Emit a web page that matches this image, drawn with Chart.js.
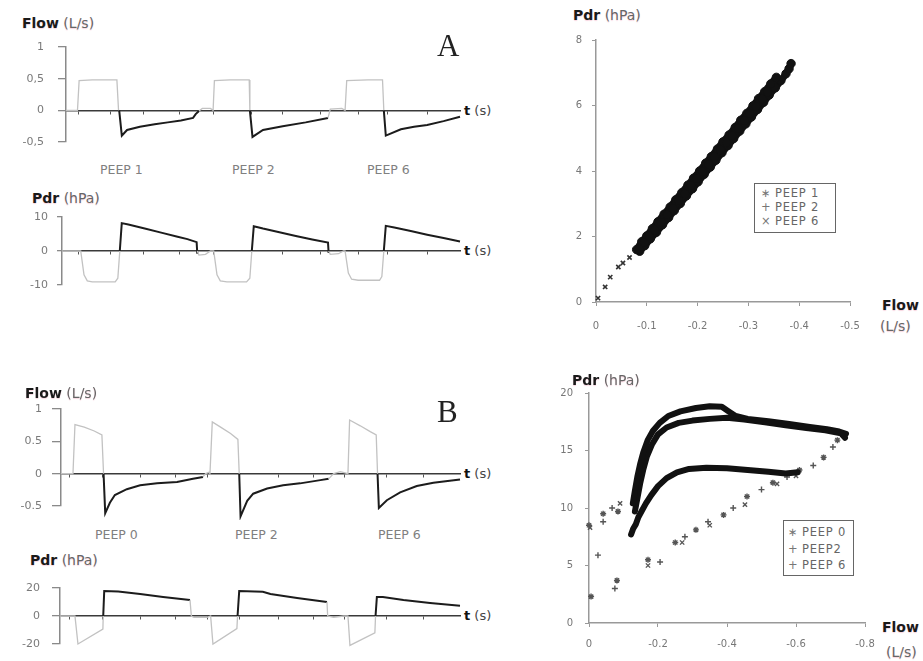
<!DOCTYPE html>
<html><head><meta charset="utf-8">
<script src="https://cdn.jsdelivr.net/npm/chart.js@4.4.1/dist/chart.umd.min.js"></script>
<style>
html,body{margin:0;padding:0;background:#fff;}
#root{position:relative;width:923px;height:661px;overflow:hidden;font-family:"DejaVu Sans",Arial,sans-serif;}
canvas{position:absolute;}
.lbl{position:absolute;white-space:nowrap;line-height:1;transform:translateY(-50%);}
.ttl{font-size:14px;color:#666;text-shadow:0 1px 1px rgba(220,60,110,0.22);}
.ttl b{color:#1a1a1a;}
.ts{font-size:13px;color:#444;}
.ts b{color:#111;}
.peep{font-size:12.5px;color:#808080;}
.big{font-family:"Liberation Serif","Times New Roman",serif;font-size:31px;color:#222;}
.legend{position:absolute;border:1px solid #666;background:#fff;font-size:11.5px;color:#666;letter-spacing:0.8px;}
.legend div{position:absolute;white-space:nowrap;line-height:1;transform:translateY(-50%);}
.legend span{display:inline-block;width:14px;color:#777;}
</style></head>
<body><div id="root"></div>
<script>
// ---------- DATA ----------
// time axis tick marks (s)
const T_TICKS_A = [0.37,1.35,2.35,3.45,4.48,5.65,6.6,7.75,8.9,9.8,11.0];
const T_TICKS_B = [0.27,1.26,2.38,3.43,4.42,5.38,6.53,7.58,8.54,9.8,10.89];

// Panel A – Flow (L/s): inspiration (grey) and expiration (black), [t, value]
const FLOW_A_INSP = [[0,0],[0.35,0],[0.4,0.47],[0.8,0.48],[1.2,0.48],[1.55,0.48],[1.6,0],[1.6,null],
  [4.05,-0.01],[4.15,0.03],[4.4,0.03],[4.48,0],[4.52,0.47],[5.0,0.48],[5.58,0.48],[5.6,0],[5.6,null],
  [7.98,-0.12],[8.05,0.02],[8.4,0.03],[8.5,0],[8.55,0.47],[9.2,0.48],[9.64,0.48],[9.68,0]];
const FLOW_A_EXP = [[1.62,0],[1.7,-0.4],[1.86,-0.31],[2.25,-0.26],[2.7,-0.22],[3.1,-0.19],[3.5,-0.16],[3.87,-0.12],[3.95,-0.06],[4.05,-0.01],[4.05,null],
  [5.6,0],[5.68,-0.42],[6.0,-0.31],[6.6,-0.25],[7.3,-0.19],[7.98,-0.12],[7.98,null],
  [9.68,0],[9.74,-0.4],[10.2,-0.3],[10.6,-0.26],[11.0,-0.23],[11.5,-0.17],[12.0,-0.1]];
const FLOW_A_Y_TICKS = [1,0.5,0,-0.5];
const FLOW_A_Y_LABELS = ['1','0,5','0','-0,5'];

// Panel A – Pdr (hPa)
const PDR_A_INSP = [[-0.12,0],[0.45,0],[0.55,-7],[0.65,-8.8],[0.8,-9.1],[1.5,-9.1],[1.58,-8],[1.64,0],[1.64,null],
  [4.0,0],[4.05,-1.2],[4.25,-1.0],[4.4,0],[4.5,0],[4.6,-7],[4.7,-8.8],[4.9,-9.1],[5.5,-9.1],[5.6,-8],[5.66,0],[5.66,null],
  [8.0,0],[8.05,-1.0],[8.3,-0.8],[8.45,0],[8.5,0],[8.6,-6.5],[8.7,-8.3],[8.9,-8.6],[9.55,-8.6],[9.62,-7.5],[9.68,0]];
const PDR_A_EXP = [[1.64,0],[1.7,8.2],[1.9,7.8],[2.4,6.6],[2.9,5.4],[3.4,4.2],[3.7,3.5],[3.98,2.6],[4.0,-0.8],[4.0,null],
  [5.66,0],[5.72,7.3],[6.0,6.6],[6.5,5.5],[7.0,4.4],[7.5,3.4],[7.98,2.5],[8.0,-0.6],[8.0,null],
  [9.68,0],[9.74,7.4],[10.0,6.9],[10.5,5.9],[11.0,4.8],[11.5,3.8],[12.0,2.8]];
const PDR_A_Y_TICKS = [10,0,-10];
const PDR_A_Y_LABELS = ['10','0','-10'];

// Panel B – Flow (L/s)
const FLOW_B_INSP = [[0,0],[0.36,0],[0.42,0.76],[0.7,0.72],[1.0,0.66],[1.23,0.6],[1.28,0],[1.28,null],
  [4.27,-0.05],[4.35,0.0],[4.45,0.02],[4.48,0],[4.55,0.8],[4.8,0.72],[5.1,0.62],[5.32,0.53],[5.36,0],[5.36,null],
  [8.05,-0.08],[8.2,0.0],[8.4,0.03],[8.63,0],[8.68,0.83],[9.0,0.74],[9.3,0.65],[9.48,0.6],[9.52,0]];
const FLOW_B_EXP = [[1.28,0],[1.33,-0.61],[1.47,-0.45],[1.62,-0.33],[1.98,-0.24],[2.38,-0.18],[2.89,-0.15],[3.49,-0.13],[3.97,-0.08],[4.27,-0.05],[4.27,null],
  [5.36,0],[5.4,-0.66],[5.6,-0.42],[5.78,-0.31],[6.2,-0.23],[6.68,-0.18],[7.19,-0.15],[7.8,-0.1],[8.05,-0.08],[8.05,null],
  [9.52,0],[9.56,-0.53],[9.8,-0.41],[10.2,-0.29],[10.7,-0.19],[11.2,-0.14],[12.0,-0.09]];
const FLOW_B_Y_TICKS = [1,0.5,0,-0.5];
const FLOW_B_Y_LABELS = ['1','0.5','0','-0.5'];

// Panel B – Pdr (hPa)
const PDR_B_INSP = [[-0.03,0],[0.42,0],[0.51,-20],[1.26,-9.3],[1.27,0],[1.27,null],
  [3.88,11.4],[3.92,0],[4.0,-1],[4.4,-1],[4.5,0],[4.57,-20],[5.29,-9],[5.31,0],[5.31,null],
  [8.0,10],[8.02,0],[8.2,-1],[8.5,0],[8.63,0],[8.69,-21],[9.44,-12],[9.46,0]];
const PDR_B_EXP = [[1.27,0],[1.3,17.9],[1.72,17.5],[2.38,15.7],[3.07,13.6],[3.88,11.4],[3.88,null],
  [5.31,0],[5.36,17.9],[6.07,17.3],[6.3,15.7],[7.1,12.9],[8.0,10],[8.0,null],
  [9.46,0],[9.5,13.6],[9.68,13.6],[10.3,11.4],[11.1,9.3],[12.0,7.3]];
const PDR_B_Y_TICKS = [20,0,-20];
const PDR_B_Y_LABELS = ['20','0','-20'];

// Scatter A – Pdr vs Flow
const SA_PEEP1 = [[-0.085,1.62],[-0.095,1.82],[-0.105,2.0],[-0.116,2.2],[-0.128,2.44],[-0.14,2.66],[-0.151,2.86],[-0.163,3.09],[-0.175,3.31],[-0.187,3.55],[-0.198,3.76],[-0.21,3.98],[-0.222,4.2],[-0.233,4.43],[-0.245,4.64],[-0.257,4.87],[-0.268,5.08],[-0.28,5.3],[-0.292,5.53],[-0.303,5.75],[-0.315,5.96],[-0.327,6.2],[-0.338,6.41]];
const SA_PEEP2 = [[-0.08,1.6],[-0.09,1.84],[-0.1,2.02],[-0.111,2.24],[-0.122,2.45],[-0.134,2.68],[-0.146,2.9],[-0.157,3.12],[-0.169,3.34],[-0.181,3.57],[-0.192,3.78],[-0.204,4.0],[-0.216,4.24],[-0.227,4.44],[-0.239,4.67],[-0.25,4.89],[-0.262,5.1],[-0.274,5.33],[-0.285,5.55],[-0.297,5.76],[-0.309,5.99],[-0.32,6.21],[-0.332,6.42],[-0.344,6.66],[-0.355,6.86]];
const SA_PEEP6 = [[-0.086,1.55],[-0.096,1.72],[-0.107,1.93],[-0.119,2.13],[-0.131,2.36],[-0.143,2.58],[-0.154,2.79],[-0.166,3.01],[-0.178,3.24],[-0.19,3.46],[-0.201,3.67],[-0.213,3.9],[-0.225,4.12],[-0.236,4.33],[-0.248,4.56],[-0.26,4.78],[-0.271,4.99],[-0.283,5.22],[-0.295,5.44],[-0.306,5.65],[-0.318,5.88],[-0.33,6.1],[-0.341,6.32],[-0.353,6.54],[-0.364,6.76],[-0.374,6.97],[-0.38,7.12],[-0.384,7.28]];
const SA_SPARSE = [[-0.004,0.12],[-0.018,0.46],[-0.028,0.76],[-0.044,1.07],[-0.053,1.19],[-0.066,1.36]];
const SA_X_TICKS = [0,-0.1,-0.2,-0.3,-0.4,-0.5];
const SA_X_LABELS = ['0','-0.1','-0.2','-0.3','-0.4','-0.5'];
const SA_Y_TICKS = [0,2,4,6,8];
const SA_Y_LABELS = ['0','2','4','6','8'];
const SA_LEGEND = ['PEEP 1','PEEP 2','PEEP 6'];

// Scatter B – Pdr vs Flow (dense loops + sparse return points)
const SB_PEEP0_LOOP = [[-0.127,10.4],[-0.133,11.5],[-0.14,12.7],[-0.148,13.8],[-0.158,14.9],[-0.17,15.9],[-0.185,16.7],[-0.205,17.4],[-0.23,18.0],[-0.265,18.4],[-0.31,18.7],[-0.35,18.85],[-0.385,18.8],[-0.405,18.4],[-0.425,18.0],[-0.46,17.75],[-0.52,17.55],[-0.58,17.3],[-0.64,17.05],[-0.69,16.85],[-0.725,16.65],[-0.745,16.45]];
const SB_PEEP2_LOOP = [[-0.133,9.7],[-0.14,10.8],[-0.148,12.1],[-0.157,13.3],[-0.168,14.5],[-0.182,15.5],[-0.2,16.4],[-0.225,17.0],[-0.26,17.4],[-0.3,17.6],[-0.35,17.75],[-0.4,17.85],[-0.45,17.7],[-0.51,17.45],[-0.57,17.2],[-0.63,16.95],[-0.685,16.75],[-0.73,16.5],[-0.742,16.1]];
const SB_PEEP6_LOOP = [[-0.122,7.7],[-0.128,8.2],[-0.136,8.6],[-0.143,9.2],[-0.152,9.7],[-0.165,10.4],[-0.18,11.1],[-0.2,11.9],[-0.225,12.6],[-0.255,13.1],[-0.29,13.4],[-0.34,13.5],[-0.4,13.45],[-0.46,13.3],[-0.52,13.15],[-0.57,13.0],[-0.605,13.1]];
const SB_PEEP0_PTS = [[-0.72,15.9],[-0.68,14.4],[-0.61,13.3],[-0.533,12.2],[-0.458,11.0],[-0.39,9.4],[-0.31,8.1],[-0.25,7.0],[-0.171,5.5],[-0.081,3.7],[-0.006,2.3],[0,8.5],[-0.041,9.5],[-0.084,9.7]];
const SB_PEEP2_PTS = [[-0.707,15.3],[-0.65,13.7],[-0.574,12.7],[-0.5,11.6],[-0.418,10.0],[-0.345,8.8],[-0.278,7.5],[-0.206,5.3],[-0.075,3.0],[-0.026,5.9],[-0.067,10.0],[-0.041,8.8]];
const SB_PEEP6_PTS = [[-0.452,10.3],[-0.35,8.5],[-0.27,7.0],[-0.171,5.0],[-0.09,10.4],[-0.003,8.3],[-0.545,12.1],[-0.6,12.8]];
const SB_X_TICKS = [0,-0.2,-0.4,-0.6,-0.8];
const SB_X_LABELS = ['0','-0.2','-0.4','-0.6','-0.8'];
const SB_Y_TICKS = [0,5,10,15,20];
const SB_Y_LABELS = ['0','5','10','15','20'];
const SB_LEGEND = ['PEEP 0','PEEP2','PEEP 6'];

const PEEP_LABELS_A = ['PEEP 1','PEEP 2','PEEP 6'];
const PEEP_LABELS_B = ['PEEP 0','PEEP 2','PEEP 6'];

// ---------- RENDERING ----------
const root = document.getElementById('root');
const FONT_FAMILY = '"DejaVu Sans", Arial, sans-serif';
const pts = a => a.map(p => ({x: p[0], y: p[1]}));

function makeChart(area, yW, xH, pad, config) {
  const cv = document.createElement('canvas');
  const left = area.l - yW, top = area.t - pad.t;
  const w = area.r + pad.r - left, h = area.b + xH + pad.b - top;
  cv.width = w; cv.height = h;
  cv.style.left = left + 'px'; cv.style.top = top + 'px';
  cv.style.width = w + 'px'; cv.style.height = h + 'px';
  root.appendChild(cv);
  const o = config.options;
  o.responsive = false; o.animation = false; o.devicePixelRatio = 1;
  o.layout = {autoPadding: false, padding: {left: 0, top: pad.t, right: pad.r, bottom: pad.b}};
  o.plugins = {legend: {display: false}, tooltip: {enabled: false}};
  return new Chart(cv, config);
}
function zeroPad(s) { s.paddingLeft = 0; s.paddingRight = 0; s.paddingTop = 0; s.paddingBottom = 0; }
function labelFor(ticks, labels) { return v => { const i = ticks.indexOf(v); return i < 0 ? '' : labels[i]; }; }

function timePanel(area, xmin, tTicks, yTicks, yLabels, insp, exp, tickLen, tickPad) {
  const yW = 50;
  makeChart(area, yW, 0, {t: 8, r: 4, b: 14}, {
    type: 'line',
    data: {datasets: [
      {data: pts(insp), borderColor: '#c2c2c2', borderWidth: 1.3, pointRadius: 0, spanGaps: false, clip: false},
      {data: pts(exp), borderColor: '#1c1c1c', borderWidth: 2, pointRadius: 0, spanGaps: false, clip: false}
    ]},
    options: {
      scales: {
        x: {type: 'linear', min: xmin, max: 12, position: {y: 0},
            afterBuildTicks: s => { s.ticks = tTicks.map(v => ({value: v})); },
            ticks: {display: false},
            grid: {drawOnChartArea: false, drawTicks: true, tickLength: 3, color: '#555', lineWidth: 1},
            border: {color: '#3a3a3a', width: 1.5},
            afterFit: zeroPad},
        y: {type: 'linear', min: Math.min(...yTicks), max: Math.max(...yTicks),
            afterBuildTicks: s => { s.ticks = yTicks.map(v => ({value: v})); },
            ticks: {callback: labelFor(yTicks, yLabels), font: {family: FONT_FAMILY, size: 11}, color: '#7a7a7a', padding: tickPad},
            grid: {drawOnChartArea: false, drawTicks: true, tickLength: tickLen, color: '#8a8a8a', lineWidth: 1.3},
            border: {color: '#8a8a8a', width: 1.5},
            afterFit: s => { s.width = yW; zeroPad(s); }}
      }
    }
  });
}

function scatterPanel(area, xTicks, xLabels, yTicks, yLabels, datasets, yPad, xPad) {
  const yW = 40, xH = 30;
  makeChart(area, yW, xH, {t: 8, r: 14, b: 2}, {
    type: 'scatter',
    data: {datasets: datasets},
    options: {
      scales: {
        x: {type: 'linear', reverse: true, min: Math.min(...xTicks), max: Math.max(...xTicks),
            afterBuildTicks: s => { s.ticks = xTicks.map(v => ({value: v})); },
            ticks: {callback: labelFor(xTicks, xLabels), font: {family: FONT_FAMILY, size: 10}, color: '#777', padding: xPad, maxRotation: 0},
            grid: {drawOnChartArea: false, drawTicks: true, tickLength: 4, color: '#999'},
            border: {color: '#999', width: 1.5},
            afterFit: s => { s.height = xH; zeroPad(s); }},
        y: {type: 'linear', min: Math.min(...yTicks), max: Math.max(...yTicks),
            afterBuildTicks: s => { s.ticks = yTicks.map(v => ({value: v})); },
            ticks: {callback: labelFor(yTicks, yLabels), font: {family: FONT_FAMILY, size: 10}, color: '#777', padding: yPad},
            grid: {drawOnChartArea: false, drawTicks: true, tickLength: 4, color: '#999'},
            border: {color: '#999', width: 1.5},
            afterFit: s => { s.width = yW; zeroPad(s); }}
      }
    }
  });
}

// Left time-series panels
timePanel({l: 66, t: 47, r: 460, b: 142}, 0, T_TICKS_A, FLOW_A_Y_TICKS, FLOW_A_Y_LABELS, FLOW_A_INSP, FLOW_A_EXP, 8, 14);
timePanel({l: 62, t: 217, r: 460, b: 285}, -0.12, T_TICKS_A, PDR_A_Y_TICKS, PDR_A_Y_LABELS, PDR_A_INSP, PDR_A_EXP, 5, 9);
timePanel({l: 61, t: 409, r: 460, b: 506}, 0, T_TICKS_B, FLOW_B_Y_TICKS, FLOW_B_Y_LABELS, FLOW_B_INSP, FLOW_B_EXP, 9, 10);
timePanel({l: 60, t: 588, r: 460, b: 644}, -0.03, T_TICKS_B, PDR_B_Y_TICKS, PDR_B_Y_LABELS, PDR_B_INSP, PDR_B_EXP, 8, 12);

// Scatter A (dense points joined so the cloud reads as a solid band)
const denseA = (d) => ({data: pts(d), showLine: true, borderColor: '#111', borderWidth: 7, pointRadius: 4.2, pointBackgroundColor: '#111', pointBorderColor: '#111', pointBorderWidth: 1, clip: false});
scatterPanel({l: 596, t: 40, r: 850, b: 302}, SA_X_TICKS, SA_X_LABELS, SA_Y_TICKS, SA_Y_LABELS, [
  denseA(SA_PEEP1), denseA(SA_PEEP2), denseA(SA_PEEP6),
  {data: pts(SA_SPARSE), pointStyle: 'crossRot', pointRadius: 3, pointBorderColor: '#333', pointBorderWidth: 1.6, clip: false}
], 10, 14);

// Scatter B
const loopB = (d) => ({data: pts(d), showLine: true, borderColor: '#111', borderWidth: 6, pointRadius: 0, borderJoinStyle: 'round', borderCapStyle: 'round', clip: false});
const sparseB = (d, st) => ({data: pts(d), pointStyle: st, pointRadius: 3, pointBorderColor: '#555', pointBorderWidth: 1.4, clip: false});
scatterPanel({l: 589, t: 393, r: 865, b: 623}, SB_X_TICKS, SB_X_LABELS, SB_Y_TICKS, SB_Y_LABELS, [
  loopB(SB_PEEP0_LOOP), loopB(SB_PEEP2_LOOP), loopB(SB_PEEP6_LOOP),
  sparseB(SB_PEEP0_PTS, 'star'), sparseB(SB_PEEP2_PTS, 'cross'), sparseB(SB_PEEP6_PTS, 'crossRot')
], 12, 11);

// ---------- TEXT ----------
function addText(html, left, cy, cls) {
  const d = document.createElement('div');
  d.className = 'lbl ' + cls; d.innerHTML = html;
  d.style.left = left + 'px'; d.style.top = cy + 'px';
  root.appendChild(d);
}
addText('<b>Flow</b> (L/s)', 22, 23, 'ttl');
addText('<b>Pdr</b> (hPa)', 32, 198, 'ttl');
addText('<b>Flow</b> (L/s)', 25, 393, 'ttl');
addText('<b>Pdr</b> (hPa)', 30, 560, 'ttl');
addText('<b>Pdr</b> (hPa)', 573, 15, 'ttl');
addText('<b>Pdr</b> (hPa)', 572, 380, 'ttl');
[110, 250, 473, 615].forEach(y => addText('<b>t</b> (s)', 464, y, 'ts'));
addText('<b>Flow</b>', 882, 305, 'ttl');
addText('(L/s)', 880, 326, 'ttl');
addText('<b>Flow</b>', 882, 627, 'ttl');
addText('(L/s)', 886, 652, 'ttl');
[100, 232, 367].forEach((x, i) => addText(PEEP_LABELS_A[i], x, 170, 'peep'));
[95, 235, 378].forEach((x, i) => addText(PEEP_LABELS_B[i], x, 535, 'peep'));
addText('A', 437, 45, 'big');
addText('B', 437, 411, 'big');

function legend(box, names, marks, rowYs, markX) {
  const L = document.createElement('div');
  L.className = 'legend';
  L.style.left = box.l + 'px'; L.style.top = box.t + 'px';
  L.style.width = box.w + 'px'; L.style.height = box.h + 'px';
  names.forEach((n, i) => {
    const r = document.createElement('div');
    r.style.left = markX + 'px'; r.style.top = rowYs[i] + 'px';
    r.innerHTML = '<span>' + marks[i] + '</span>' + n;
    L.appendChild(r);
  });
  root.appendChild(L);
}
legend({l: 754, t: 183, w: 80, h: 48}, SA_LEGEND, ['\u2217', '+', '\u00d7'], [10, 24, 38], 6);
legend({l: 783, t: 520, w: 69, h: 54}, SB_LEGEND, ['\u2217', '+', '+'], [12, 29, 45], 4);
</script>
</body></html>
